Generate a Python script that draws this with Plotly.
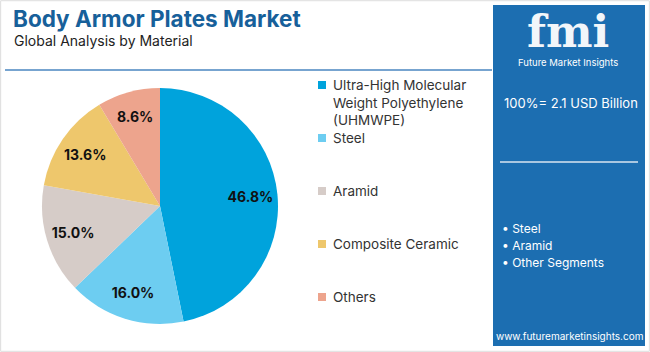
import plotly.graph_objects as go

labels = ["Ultra-High Molecular<br>Weight Polyethylene<br>(UHMWPE)", "Steel", "Aramid", "Composite Ceramic", "Others"]
values = [46.8, 16.0, 15.0, 13.6, 8.6]
colors = ["#00A3DC", "#6DCDF1", "#D6CCC8", "#EEC76C", "#EDA48D"]
legend_y = [85, 138, 191, 244, 297]
side_bullets = ["Steel", "Aramid", "Other Segments"]
total_text = "100%= 2.1 USD Billion"

W, H = 650, 352
def px(x): return x / W
def py(y): return 1 - y / H

dom = dict(x=[px(42), px(278)], y=[py(324), py(88)])
FONT = "Inter, Open Sans, sans-serif"

fig = go.Figure()
# coloured slices
fig.add_trace(go.Pie(
    labels=labels, values=values, sort=False, direction="clockwise", rotation=0,
    marker=dict(colors=colors, line=dict(width=0)),
    textinfo="none", domain=dom, showlegend=False, hoverinfo="label+percent",
))
# transparent ring carrying the percentage labels further out
fig.add_trace(go.Pie(
    labels=labels, values=values, sort=False, direction="clockwise", rotation=0, hole=0.54,
    marker=dict(colors=["rgba(0,0,0,0)"] * len(values), line=dict(width=0)),
    texttemplate="<b>%{value:.1f}%</b>", textposition="inside",
    insidetextorientation="horizontal",
    textfont=dict(family=FONT, size=14, color="#111111"),
    domain=dom, showlegend=False, hoverinfo="skip",
))

shapes = []
ann = []
shapes.append(dict(type="rect", xref="paper", yref="paper", x0=0.001, x1=0.999, y0=0.002, y1=0.998,
                   line=dict(color="#DDDDDD", width=1), fillcolor="rgba(0,0,0,0)"))
shapes.append(dict(type="line", xref="paper", yref="paper", x0=px(5), x1=px(492), y0=py(70), y1=py(70),
                   line=dict(color="#4A86C0", width=1.5)))
shapes.append(dict(type="rect", xref="paper", yref="paper", x0=px(493), x1=px(645), y0=py(346), y1=py(5),
                   line=dict(width=0), fillcolor="#1C6EB1", layer="below"))
shapes.append(dict(type="line", xref="paper", yref="paper", x0=px(500), x1=px(638), y0=py(162), y1=py(162),
                   line=dict(color="#D8E6F2", width=1.5)))

ann.append(dict(text="<b>Body Armor Plates Market</b>", x=px(11), y=py(18), xref="paper", yref="paper",
                xanchor="left", yanchor="middle", showarrow=False,
                font=dict(family=FONT, size=22.5, color="#17609A")))
ann.append(dict(text="Global Analysis by Material", x=px(12), y=py(41), xref="paper", yref="paper",
                xanchor="left", yanchor="middle", showarrow=False,
                font=dict(family=FONT, size=14, color="#222222")))

for lab, col, yy in zip(labels, colors, legend_y):
    shapes.append(dict(type="rect", xref="paper", yref="paper", x0=px(318), x1=px(326),
                       y0=py(yy + 4), y1=py(yy - 4), line=dict(width=0), fillcolor=col))
    ann.append(dict(text=lab, x=px(331), y=py(yy - 10), xref="paper", yref="paper",
                    xanchor="left", yanchor="top", align="left", showarrow=False,
                    font=dict(family=FONT, size=13.5, color="#333333")))

ann.append(dict(text="<b>fmi</b>", x=px(568), y=py(31), xref="paper", yref="paper",
                xanchor="center", yanchor="middle", showarrow=False,
                font=dict(family="DejaVu Serif, serif", size=44, color="#F2F6FA")))
ann.append(dict(text="Future Market Insights", x=px(568), y=py(63), xref="paper", yref="paper",
                xanchor="center", yanchor="middle", showarrow=False,
                font=dict(family=FONT, size=9.5, color="#FFFFFF")))
ann.append(dict(text=total_text, x=px(502), y=py(103), xref="paper", yref="paper",
                xanchor="left", yanchor="middle", showarrow=False,
                font=dict(family=FONT, size=13, color="#FFFFFF")))
for i, b in enumerate(side_bullets):
    ann.append(dict(text="• " + b, x=px(500), y=py(228 + 17 * i), xref="paper", yref="paper",
                    xanchor="left", yanchor="middle", showarrow=False,
                    font=dict(family=FONT, size=12, color="#FFFFFF")))
ann.append(dict(text="www.futuremarketinsights.com", x=px(569), y=py(336), xref="paper", yref="paper",
                xanchor="center", yanchor="middle", showarrow=False,
                font=dict(family=FONT, size=10, color="#FFFFFF")))

fig.update_layout(
    width=W, height=H, margin=dict(l=0, r=0, t=0, b=0),
    paper_bgcolor="#FFFFFF", plot_bgcolor="#FFFFFF",
    shapes=shapes, annotations=ann,
)
fig.write_html("out.html")
